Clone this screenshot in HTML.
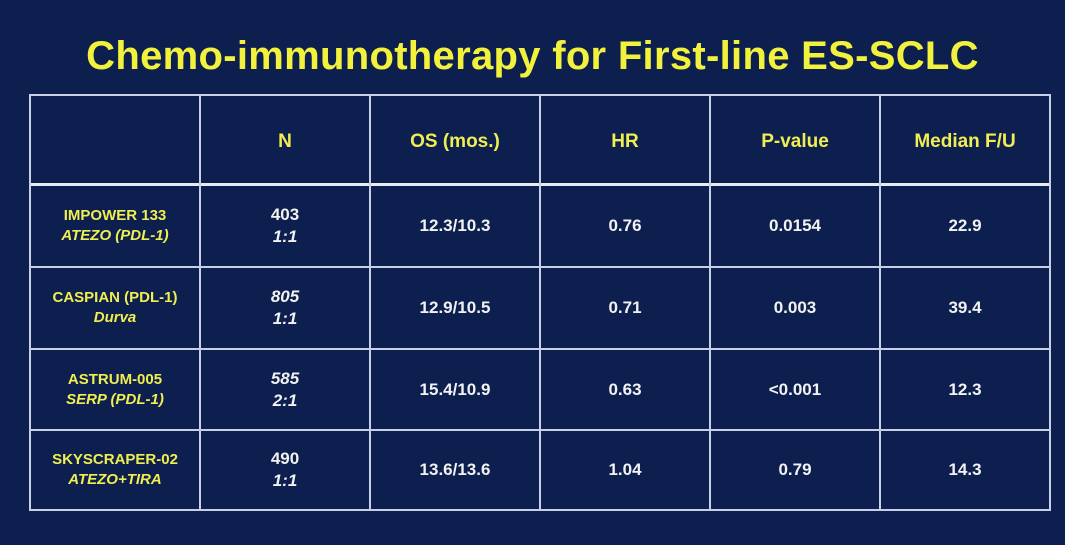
<!DOCTYPE html>
<html><head><style>
body{margin:0;width:1065px;height:545px;background:#0c1f4f;font-family:"Liberation Sans",sans-serif;font-weight:bold;overflow:hidden;position:relative}
.t{position:absolute;left:0;top:34px;width:1065px;text-align:center;color:#f2f23c;font-size:40px;letter-spacing:0.3px}
.c{position:absolute;text-align:center;display:flex;flex-direction:column;justify-content:center;align-items:center;font-size:17px;line-height:22px}
.y{color:#f0ee50}.w{color:#f2f2f2}i{font-style:italic}
.h{position:absolute;background:#c8d0e8}
</style></head><body>
<div class="t">Chemo-immunotherapy for First-line ES-SCLC</div>
<div class="h" style="left:29px;top:94px;width:1022px;height:2px"></div>
<div class="h" style="left:29px;top:183px;width:1022px;height:3px;background:#e8ecf6"></div>
<div class="h" style="left:29px;top:266px;width:1022px;height:2px"></div>
<div class="h" style="left:29px;top:348px;width:1022px;height:2px"></div>
<div class="h" style="left:29px;top:429px;width:1022px;height:2px"></div>
<div class="h" style="left:29px;top:509px;width:1022px;height:2px"></div>
<div class="h" style="left:29px;top:94px;width:2px;height:417px"></div>
<div class="h" style="left:199px;top:94px;width:2px;height:417px"></div>
<div class="h" style="left:369px;top:94px;width:2px;height:417px"></div>
<div class="h" style="left:539px;top:94px;width:2px;height:417px"></div>
<div class="h" style="left:709px;top:94px;width:2px;height:417px"></div>
<div class="h" style="left:879px;top:94px;width:2px;height:417px"></div>
<div class="h" style="left:1049px;top:94px;width:2px;height:417px"></div>
<div class="c y" style="left:200px;top:98px;width:170px;height:88px;font-size:19px">N</div>
<div class="c y" style="left:370px;top:98px;width:170px;height:88px;font-size:19px">OS (mos.)</div>
<div class="c y" style="left:540px;top:98px;width:170px;height:88px;font-size:19px">HR</div>
<div class="c y" style="left:710px;top:98px;width:170px;height:88px;font-size:19px">P-value</div>
<div class="c y" style="left:880px;top:98px;width:170px;height:88px;font-size:19px">Median F/U</div>

<div class="c y" style="left:30px;top:186px;width:170px;height:80px;font-size:15px;line-height:20px">IMPOWER 133<br><i>ATEZO (PDL-1)</i></div>
<div class="c w" style="left:200px;top:186px;width:170px;height:80px">403<br><i>1:1</i></div>
<div class="c w" style="left:370px;top:186px;width:170px;height:80px">12.3/10.3</div>
<div class="c w" style="left:540px;top:186px;width:170px;height:80px">0.76</div>
<div class="c w" style="left:710px;top:186px;width:170px;height:80px">0.0154</div>
<div class="c w" style="left:880px;top:186px;width:170px;height:80px">22.9</div>

<div class="c y" style="left:30px;top:268px;width:170px;height:80px;font-size:15px;line-height:20px">CASPIAN (PDL-1)<br><i>Durva</i></div>
<div class="c w" style="left:200px;top:268px;width:170px;height:80px"><i>805</i><i>1:1</i></div>
<div class="c w" style="left:370px;top:268px;width:170px;height:80px">12.9/10.5</div>
<div class="c w" style="left:540px;top:268px;width:170px;height:80px">0.71</div>
<div class="c w" style="left:710px;top:268px;width:170px;height:80px">0.003</div>
<div class="c w" style="left:880px;top:268px;width:170px;height:80px">39.4</div>

<div class="c y" style="left:30px;top:350px;width:170px;height:80px;font-size:15px;line-height:20px">ASTRUM-005<br><i>SERP (PDL-1)</i></div>
<div class="c w" style="left:200px;top:350px;width:170px;height:80px"><i>585</i><i>2:1</i></div>
<div class="c w" style="left:370px;top:350px;width:170px;height:80px">15.4/10.9</div>
<div class="c w" style="left:540px;top:350px;width:170px;height:80px">0.63</div>
<div class="c w" style="left:710px;top:350px;width:170px;height:80px">&lt;0.001</div>
<div class="c w" style="left:880px;top:350px;width:170px;height:80px">12.3</div>

<div class="c y" style="left:30px;top:431px;width:170px;height:78px;font-size:15px;line-height:20px">SKYSCRAPER-02<br><i>ATEZO+TIRA</i></div>
<div class="c w" style="left:200px;top:431px;width:170px;height:78px">490<br><i>1:1</i></div>
<div class="c w" style="left:370px;top:431px;width:170px;height:78px">13.6/13.6</div>
<div class="c w" style="left:540px;top:431px;width:170px;height:78px">1.04</div>
<div class="c w" style="left:710px;top:431px;width:170px;height:78px">0.79</div>
<div class="c w" style="left:880px;top:431px;width:170px;height:78px">14.3</div>
</body></html>
